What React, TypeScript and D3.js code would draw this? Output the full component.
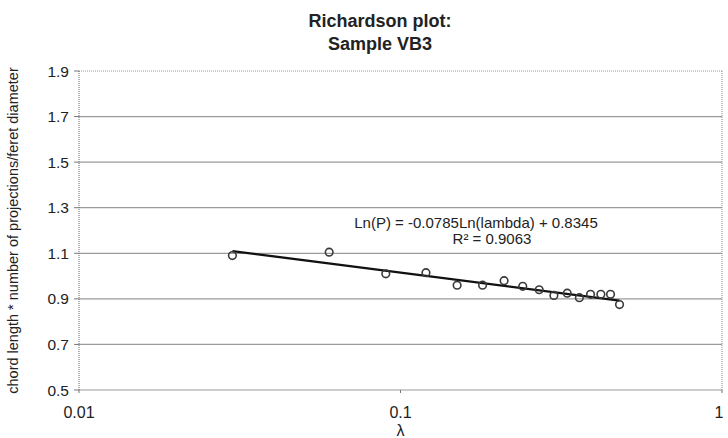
import React from "react";
import * as d3 from "d3";

// lambda (step length) and chord length * projections / feret diameter
const lambdas = [0.03, 0.06, 0.09, 0.12, 0.15, 0.18, 0.21, 0.24, 0.27, 0.3, 0.33, 0.36, 0.39, 0.42, 0.45, 0.48];
const values = [1.09, 1.105, 1.01, 1.015, 0.96, 0.96, 0.98, 0.955, 0.94, 0.915, 0.925, 0.905, 0.92, 0.92, 0.92, 0.875];
const yTicks = [0.5, 0.7, 0.9, 1.1, 1.3, 1.5, 1.7, 1.9];
const xTicks = [0.01, 0.1, 1];
// excel log trendline shown on the chart
const trendSlope = -0.0785;
const trendIntercept = 0.8345;
const trendLabel = "Ln(P) = -0.0785Ln(lambda) + 0.8345";
const r2Label = "R² = 0.9063";

const width = 728;
const height = 438;
const margin = { top: 71, right: 6, bottom: 48, left: 79 };

export default function App() {
  const x = d3
    .scaleLog()
    .domain([0.01, 1])
    .range([margin.left, width - margin.right]);
  const y = d3
    .scaleLinear()
    .domain([0.5, 1.9])
    .range([height - margin.bottom, margin.top]);

  const trendFn = (l: number) => trendSlope * Math.log(l) + trendIntercept;
  const trendPath = d3
    .line<number>()
    .x((l) => x(l))
    .y((l) => y(trendFn(l)))([lambdas[0], lambdas[lambdas.length - 1]]);

  const font = "'Liberation Sans', Arial, sans-serif";
  const x0 = margin.left;
  const x1 = width - margin.right;
  const yTop = margin.top;
  const yBot = height - margin.bottom;
  const midY = (yTop + yBot) / 2;
  const titleX = 380;

  return (
    <div style={{ position: "absolute", left: 0, top: 0 }}>
      <svg width={width} height={height} style={{ display: "block", background: "#fff" }} fontFamily={font}>
        {/* title */}
        <text x={titleX} y={27} textAnchor="middle" fontSize={18} fontWeight="bold" fill="#222">
          Richardson plot:
        </text>
        <text x={titleX} y={50} textAnchor="middle" fontSize={18} fontWeight="bold" fill="#222">
          Sample VB3
        </text>

        {/* gridlines + y ticks */}
        {yTicks.map((t) => (
          <g key={t}>
            {t !== 1.9 && (
              <line x1={x0} x2={x1} y1={y(t)} y2={y(t)} stroke="#9a9a9a" strokeWidth={1.2} />
            )}
            <line x1={x0 - 5} x2={x0} y1={y(t)} y2={y(t)} stroke="#777" strokeWidth={1} />
            <text x={x0 - 10} y={y(t)} dy="0.36em" textAnchor="end" fontSize={15.5} fill="#222">
              {t.toFixed(1)}
            </text>
          </g>
        ))}

        {/* frame: dotted top, left, right */}
        <line x1={x0} x2={x1} y1={yTop} y2={yTop} stroke="#999" strokeDasharray="1,1" />
        <line x1={x0} x2={x0} y1={yTop} y2={yBot} stroke="#666" strokeDasharray="1,1" />
        <line x1={x1} x2={x1} y1={yTop} y2={yBot} stroke="#888" strokeDasharray="1,1" />

        {/* x ticks */}
        {xTicks.map((t) => (
          <g key={t}>
            <line x1={x(t)} x2={x(t)} y1={yBot} y2={yBot + 3} stroke="#777" />
            <text x={x(t) - (t === 1 ? 3 : 0)} y={yBot + 28} textAnchor="middle" fontSize={16} fill="#222">
              {t}
            </text>
          </g>
        ))}
        <text x={x(0.1)} y={height - 2} textAnchor="middle" fontSize={16} fill="#222">
          λ
        </text>

        {/* y axis title */}
        <text
          transform={`translate(18,${midY}) rotate(-90)`}
          textAnchor="middle"
          fontSize={14.5}
          fill="#222"
        >
          chord length * number of projections/feret diameter
        </text>

        {/* trendline */}
        <path d={trendPath ?? ""} fill="none" stroke="#111" strokeWidth={2.3} />

        {/* points */}
        {lambdas.map((l, i) => (
          <circle key={l} cx={x(l)} cy={y(values[i])} r={3.8} fill="none" stroke="#3a3a3a" strokeWidth={1.6} />
        ))}

        {/* trendline label */}
        <text x={476} y={y(1.234)} dy="0.36em" textAnchor="middle" fontSize={15} fill="#222">
          {trendLabel}
        </text>
        <text x={492} y={y(1.234) + 16} dy="0.36em" textAnchor="middle" fontSize={15} fill="#222">
          {r2Label}
        </text>
      </svg>
    </div>
  );
}
